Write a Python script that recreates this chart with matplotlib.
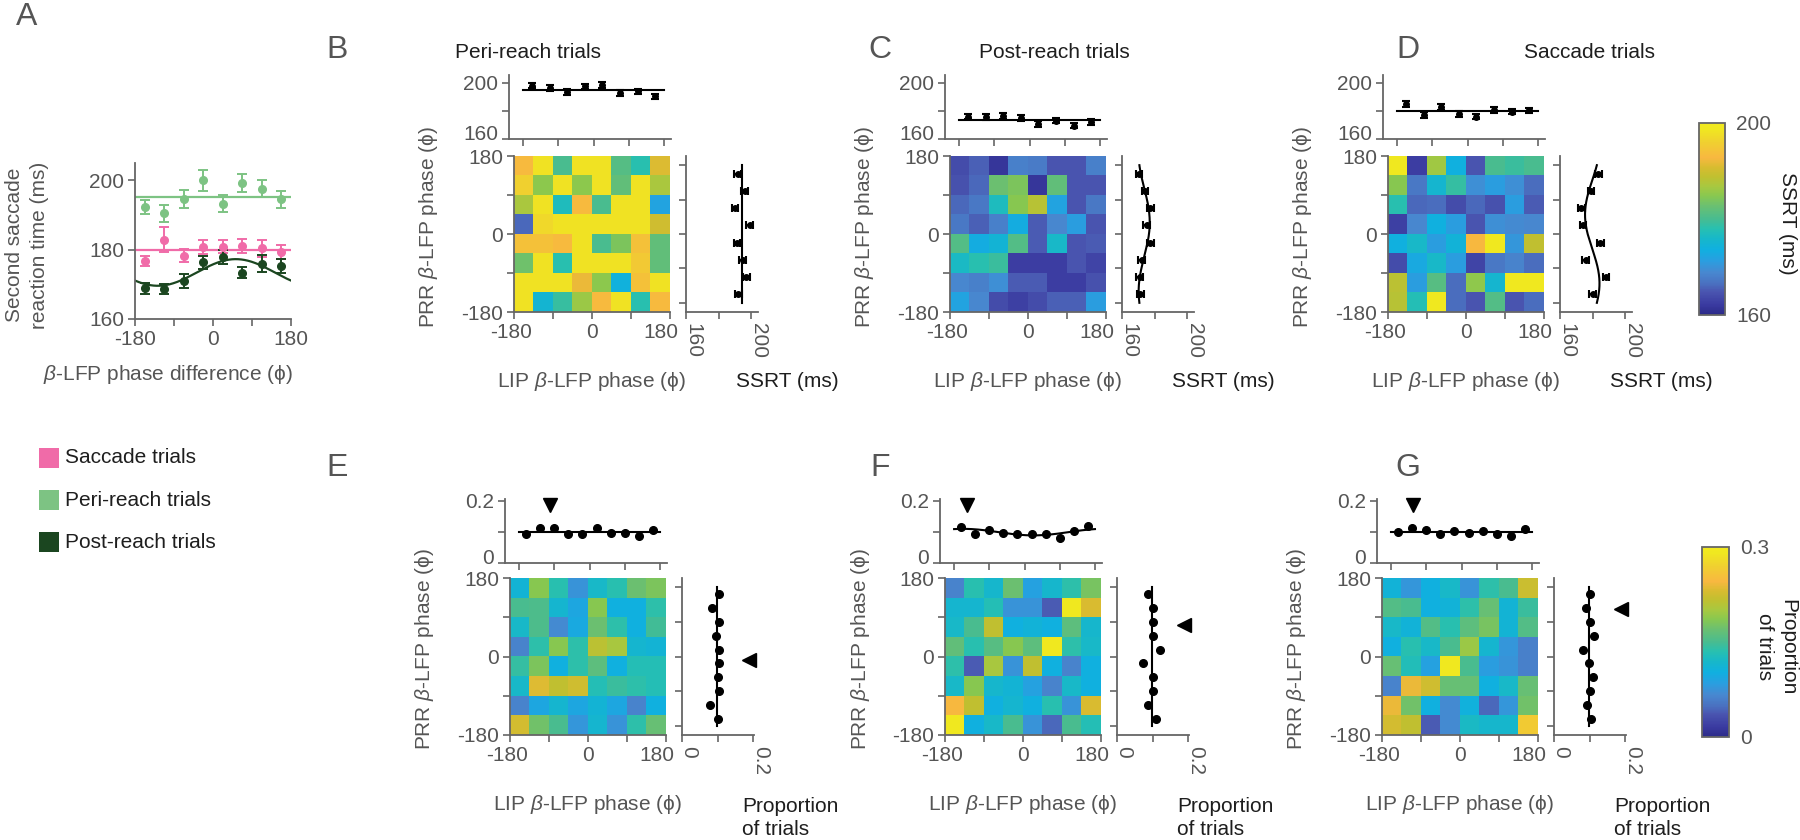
import numpy as np
import matplotlib
matplotlib.use('Agg')
import matplotlib.pyplot as plt
from matplotlib.colors import LinearSegmentedColormap, Normalize
from matplotlib.cm import ScalarMappable
from matplotlib.patches import Rectangle
from matplotlib.transforms import ScaledTranslation

plt.rcParams['font.family'] = ['Liberation Sans', 'DejaVu Sans']
plt.rcParams['mathtext.fontset'] = 'custom'
plt.rcParams['mathtext.rm'] = 'Liberation Sans'
plt.rcParams['mathtext.it'] = 'Liberation Sans:italic'
plt.rcParams['font.size'] = 15

# ---------------- data ----------------
phase8 = [-157.5, -112.5, -67.5, -22.5, 22.5, 67.5, 112.5, 157.5]
phase10 = [-162, -126, -90, -54, -18, 18, 54, 90, 126, 162]

# Panel A: second saccade reaction time (ms)
a_saccade = [176.7, 182.9, 178.3, 180.7, 180.9, 181.0, 180.4, 179.4]
a_saccade_err = [1.5, 3.5, 2.0, 2.0, 2.0, 2.0, 2.5, 2.0]
a_peri = [192.2, 190.5, 194.6, 200.0, 193.3, 199.2, 197.6, 194.5]
a_peri_err = [2.0, 2.5, 2.5, 3.0, 2.5, 2.5, 2.5, 2.5]
a_post = [168.8, 168.6, 171.0, 176.3, 178.0, 173.4, 176.0, 175.3]
a_post_err = [1.5, 1.5, 2.0, 2.0, 2.0, 1.5, 2.5, 2.0]

legend_labels = ['Saccade trials', 'Peri-reach trials', 'Post-reach trials']
titles = ['Peri-reach trials', 'Post-reach trials', 'Saccade trials']

# SSRT heatmaps (rows: PRR phase 180 -> -180, cols: LIP phase -180 -> 180)
ssrt_peri = [
    [193, 198, 180, 198, 198, 181, 178, 191],
    [196, 185, 198, 185, 198, 182, 198, 187],
    [187, 198, 177, 193, 180, 198, 198, 172],
    [166, 197, 198, 198, 198, 198, 198, 190],
    [194, 194, 193, 198, 180, 184, 194, 182],
    [183, 198, 178, 198, 198, 198, 195, 182],
    [198, 198, 198, 192, 185, 174, 194, 198],
    [198, 175, 179, 186, 193, 198, 178, 193],
]
ssrt_post = [
    [164.0, 165.6, 161.6, 168.0, 167.6, 164.8, 164.8, 168.0],
    [164.4, 166.0, 182.8, 184.0, 161.6, 182.0, 164.8, 164.8],
    [166.0, 167.2, 176.8, 184.8, 188.0, 172.0, 164.8, 167.2],
    [167.2, 165.6, 168.0, 173.2, 165.2, 168.8, 171.2, 164.8],
    [180.8, 173.2, 174.8, 180.8, 165.2, 176.0, 164.8, 165.2],
    [176.4, 178.0, 179.2, 162.4, 162.4, 162.4, 164.8, 163.2],
    [168.8, 168.0, 169.6, 165.2, 165.2, 162.4, 162.4, 164.4],
    [172.0, 168.8, 164.0, 162.8, 164.0, 165.6, 165.6, 171.2],
]
ssrt_sacc = [
    [198.8, 162.4, 186.4, 173.6, 164.8, 180.0, 179.2, 180.0],
    [184.8, 167.2, 175.2, 178.8, 169.6, 171.2, 169.6, 166.4],
    [178.0, 166.0, 166.4, 164.0, 166.0, 164.4, 171.2, 165.2],
    [162.8, 168.8, 173.6, 171.2, 164.8, 169.6, 169.2, 168.8],
    [173.6, 176.0, 171.2, 174.4, 192.8, 198.8, 170.4, 188.8],
    [164.0, 172.8, 176.0, 171.2, 163.2, 167.2, 168.4, 166.4],
    [188.4, 171.2, 181.2, 166.4, 185.2, 175.2, 198.8, 198.8],
    [188.0, 177.6, 198.8, 166.4, 164.8, 180.8, 164.8, 166.4],
]
# SSRT marginals (ordered by ascending phase)
ssrt_top = [
    [198.1, 196.4, 193.5, 197.6, 198.6, 192.8, 194.0, 190.4],
    [176.0, 175.6, 176.5, 174.8, 170.8, 173.2, 169.6, 172.0],
    [184.9, 177.2, 182.8, 177.7, 176.0, 180.8, 179.6, 180.4],
]
ssrt_right = [
    [192.2, 197.2, 194.9, 191.5, 199.2, 190.3, 196.1, 191.8],
    [171.3, 170.9, 172.1, 177.5, 175.2, 177.5, 174.2, 170.5],
    [180.0, 188.3, 175.8, 184.8, 174.2, 173.1, 179.0, 183.6],
]
ssrt_err = [2.0, 2.0, 2.0, 2.0, 2.0, 2.0, 2.0, 2.0]
ssrt_top_cosfit = [False, False, False]
ssrt_right_cosfit = [False, True, True]

# Proportion-of-trials heatmaps
prop_peri = [
    [0.111, 0.186, 0.135, 0.075, 0.120, 0.135, 0.171, 0.180],
    [0.150, 0.153, 0.114, 0.093, 0.186, 0.102, 0.102, 0.138],
    [0.120, 0.153, 0.069, 0.096, 0.171, 0.138, 0.102, 0.147],
    [0.063, 0.138, 0.186, 0.138, 0.213, 0.201, 0.114, 0.111],
    [0.141, 0.180, 0.102, 0.138, 0.162, 0.102, 0.132, 0.132],
    [0.120, 0.234, 0.216, 0.225, 0.132, 0.144, 0.138, 0.132],
    [0.063, 0.093, 0.114, 0.093, 0.111, 0.093, 0.063, 0.102],
    [0.228, 0.174, 0.150, 0.078, 0.114, 0.075, 0.138, 0.168],
]
prop_post = [
    [0.063, 0.135, 0.117, 0.171, 0.087, 0.117, 0.138, 0.177],
    [0.114, 0.114, 0.132, 0.075, 0.075, 0.039, 0.291, 0.231],
    [0.120, 0.150, 0.216, 0.102, 0.108, 0.102, 0.162, 0.117],
    [0.165, 0.135, 0.159, 0.186, 0.162, 0.291, 0.138, 0.120],
    [0.138, 0.039, 0.201, 0.075, 0.216, 0.102, 0.063, 0.102],
    [0.120, 0.186, 0.117, 0.111, 0.087, 0.063, 0.120, 0.102],
    [0.246, 0.216, 0.102, 0.114, 0.102, 0.135, 0.075, 0.231],
    [0.291, 0.102, 0.120, 0.150, 0.075, 0.045, 0.150, 0.132],
]
prop_sacc = [
    [0.108, 0.078, 0.102, 0.120, 0.075, 0.138, 0.150, 0.222],
    [0.156, 0.150, 0.102, 0.108, 0.138, 0.168, 0.111, 0.144],
    [0.120, 0.108, 0.156, 0.135, 0.162, 0.177, 0.111, 0.156],
    [0.102, 0.135, 0.120, 0.150, 0.195, 0.114, 0.078, 0.060],
    [0.168, 0.129, 0.087, 0.291, 0.150, 0.084, 0.075, 0.060],
    [0.063, 0.240, 0.225, 0.168, 0.168, 0.102, 0.120, 0.168],
    [0.240, 0.174, 0.102, 0.069, 0.105, 0.045, 0.078, 0.174],
    [0.228, 0.216, 0.039, 0.069, 0.123, 0.117, 0.117, 0.264],
]
prop_top = [
    [0.0936, 0.1117, 0.1117, 0.0915, 0.0915, 0.1117, 0.0968, 0.0968, 0.0862, 0.1043],
    [0.1149, 0.0936, 0.1043, 0.0968, 0.0936, 0.0936, 0.0915, 0.0809, 0.1011, 0.1191],
    [0.0989, 0.1117, 0.1043, 0.0915, 0.1021, 0.0968, 0.1021, 0.0915, 0.0851, 0.1085],
]
prop_right = [
    [0.102, 0.078, 0.105, 0.102, 0.105, 0.105, 0.096, 0.105, 0.085, 0.105],
    [0.1091, 0.0873, 0.100, 0.100, 0.0727, 0.1218, 0.100, 0.100, 0.100, 0.0873],
    [0.105, 0.093, 0.100, 0.110, 0.097, 0.081, 0.112, 0.100, 0.090, 0.102],
]
prop_top_cosfit = [False, True, False]
prop_right_cosfit = [False, False, False]
# preferred-phase markers
tri_top_phase = [-102, -146, -123]
tri_right_phase = [-8, 82, 123]
tri_level = 0.187

# ---------------- style ----------------
TXT = '#555555'
DARK = '#1e1e1e'
SPINE = '#666666'
C_SACC = '#f06ba8'
C_PERI = '#7dc383'
C_POST = '#1b4620'

# parula-like colormap sampled from the reference colour bar
cmap_pos = [0.0, 0.05, 0.12, 0.16, 0.22, 0.28, 0.34, 0.40, 0.45, 0.50,
            0.57, 0.62, 0.67, 0.72, 0.77, 0.82, 0.90, 0.97, 1.0]
cmap_cols = ['#2b2a88', '#3a3aa0', '#4a55b0', '#4a70c0', '#4888d0', '#2a9ee0',
             '#10b0e0', '#18b8c8', '#28c0b0', '#48bc90', '#6cc070', '#88c850',
             '#a8c840', '#c0c030', '#d8bc30', '#f8b840', '#f0d030', '#f0e820',
             '#f2ea1e']
parula = LinearSegmentedColormap.from_list('parula_ref', list(zip(cmap_pos, cmap_cols)), N=256)

W, H = 1800, 840
fig = plt.figure(figsize=(W / 100, H / 100), dpi=100)


def box(x0, y0, x1, y1):
    return [x0 / W, 1 - y1 / H, (x1 - x0) / W, (y1 - y0) / H]


def fx(x):
    return x / W


def fy(y):
    return 1 - y / H


def shift(lbl, dx, dy):
    lbl.set_transform(lbl.get_transform() +
                      ScaledTranslation(dx / 100, dy / 100, fig.dpi_scale_trans))


def style(ax):
    for s in ['top', 'right']:
        ax.spines[s].set_visible(False)
    for s in ['left', 'bottom']:
        ax.spines[s].set_color(SPINE)
        ax.spines[s].set_linewidth(1.3)
    ax.tick_params(direction='out', length=5, width=1.2, color=SPINE,
                   labelcolor=TXT, labelsize=15, pad=3)


def cosfit(ph, vals):
    th = np.deg2rad(np.asarray(ph, float))
    X = np.column_stack([np.ones_like(th), np.cos(th), np.sin(th)])
    coef, *_ = np.linalg.lstsq(X, np.asarray(vals, float), rcond=None)
    t = np.linspace(-180, 180, 361)
    tt = np.deg2rad(t)
    return t, coef[0] + coef[1] * np.cos(tt) + coef[2] * np.sin(tt)


def flatfit(vals):
    t = np.array([-180, 180])
    m = np.mean(vals)
    return t, np.array([m, m])


beta_lip = r'LIP $\beta$-LFP phase (ϕ)'
beta_prr = r'PRR $\beta$-LFP phase (ϕ)'
phase_ticks = [-180, -90, 0, 90, 180]
phase_lbls = ['-180', '', '0', '', '180']

# ---------------- Panel A ----------------
axA = fig.add_axes(box(135, 163, 291, 319))
style(axA)
for vals, err, col in [(a_peri, a_peri_err, C_PERI), (a_saccade, a_saccade_err, C_SACC)]:
    t, f = flatfit(vals)
    axA.plot(t, f, color=col, lw=1.6, zorder=2)
    axA.errorbar(phase8, vals, yerr=err, fmt='o', color=col, ms=5.5,
                 capsize=3.5, elinewidth=1.4, capthick=1.4, zorder=3)
t, f = cosfit(phase8, a_post)
axA.plot(t, f, color=C_POST, lw=1.6, zorder=2)
axA.errorbar(phase8, a_post, yerr=a_post_err, fmt='o', color=C_POST, ms=5.5,
             capsize=3.5, elinewidth=1.4, capthick=1.4, zorder=3)
axA.set_xlim(-180, 180)
axA.set_ylim(160, 205)
axA.set_xticks(phase_ticks)
axA.set_xticklabels(phase_lbls)
axA.set_yticks([160, 180, 200])
fig.text(fx(27), fy(245), 'Second saccade\nreaction time (ms)', rotation=90,
         ha='center', va='center', color=TXT, fontsize=15, linespacing=1.45)
fig.text(fx(43), fy(375), r'$\beta$-LFP phase difference (ϕ)', ha='left',
         va='center', color=TXT, fontsize=15)
fig.text(fx(27), fy(17), 'A', ha='center', va='center', color=TXT, fontsize=23)

# legend
for i, (lab, col) in enumerate(zip(legend_labels, [C_SACC, C_PERI, C_POST])):
    yc = 458 + 42 * i
    fig.patches.append(Rectangle((fx(39), fy(yc + 10)), 20 / W, 20 / H,
                                 transform=fig.transFigure, facecolor=col,
                                 edgecolor='none'))
    fig.text(fx(65), fy(yc), lab, ha='left', va='center', color=DARK, fontsize=15)

# ---------------- heatmap panels ----------------
row1_left = [514, 950, 1388]
row2_left = [510, 945, 1382]
letters_top = ['B', 'C', 'D']
letters_bot = ['E', 'F', 'G']
letter_x = [337, 880, 1408]
title_x = [528, 1054, 1590]


def heat_panel(hl, top, bottom, data, vmin, vmax, top_vals, right_vals, phases,
               top_fit, right_fit, err, top_ylim, top_yticks, top_ylbls,
               right_xlim, right_xticks, right_xlbls, mt_top, mt_bot, tri=None):
    axH = fig.add_axes(box(hl, top, hl + 156, bottom))
    style(axH)
    axH.imshow(np.array(data), cmap=parula, vmin=vmin, vmax=vmax,
               extent=[-180, 180, -180, 180], origin='upper', aspect='auto',
               interpolation='nearest')
    axH.set_xlim(-180, 180)
    axH.set_ylim(-180, 180)
    axH.set_xticks(phase_ticks)
    axH.set_xticklabels(phase_lbls)
    axH.set_yticks(phase_ticks)
    axH.set_yticklabels(phase_lbls)
    xl = axH.get_xticklabels()
    shift(xl[0], -3, 0)
    shift(xl[-1], -9, 0)

    # top marginal
    axT = fig.add_axes(box(hl - 5, mt_top, hl + 157, mt_bot))
    style(axT)
    if top_fit:
        t, f = cosfit(phases, top_vals)
    else:
        t, f = flatfit(top_vals)
    axT.plot(t, f, color='k', lw=1.5, zorder=2)
    if err is not None:
        axT.errorbar(phases, top_vals, yerr=err, fmt='o', color='k', ms=4,
                     capsize=3, elinewidth=1.5, capthick=1.5, zorder=3)
    else:
        axT.plot(phases, top_vals, 'o', color='k', ms=5.5, zorder=3)
    axT.set_xlim(-216, 198)
    axT.set_ylim(*top_ylim)
    axT.set_xticks(phase_ticks)
    axT.set_xticklabels([])
    axT.set_yticks(top_yticks)
    axT.set_yticklabels(top_ylbls)
    shift(axT.get_yticklabels()[0], 0, 7)

    # right marginal
    axR = fig.add_axes(box(hl + 172, top, hl + 244, bottom))
    style(axR)
    if right_fit:
        t, f = cosfit(phases, right_vals)
    else:
        t, f = flatfit(right_vals)
    axR.plot(f, t, color='k', lw=1.5, zorder=2)
    if err is not None:
        axR.errorbar(right_vals, phases, xerr=err, fmt='o', color='k', ms=4,
                     capsize=3, elinewidth=1.5, capthick=1.5, zorder=3)
    else:
        axR.plot(right_vals, phases, 'o', color='k', ms=5.5, zorder=3)
    axR.set_xlim(*right_xlim)
    axR.set_ylim(-204, 204)
    axR.set_yticks(phase_ticks)
    axR.set_yticklabels([])
    axR.set_xticks(right_xticks)
    axR.set_xticklabels(right_xlbls, rotation=-90)
    for lb in axR.get_xticklabels():
        shift(lb, 7, 0)

    if tri is not None:
        tp, rp = tri
        axT.plot([tp], [tri_level], marker='v', color='k', ms=10, clip_on=False)
        axR.plot([tri_level], [rp], marker='<', color='k', ms=10, clip_on=False)

    fig.text(fx(hl - 85), fy((top + bottom) / 2 - 7), beta_prr, rotation=90,
             ha='center', va='center', color=TXT, fontsize=15)
    return axH


for i in range(3):
    hl = row1_left[i]
    heat_panel(hl, 156, 312, [ssrt_peri, ssrt_post, ssrt_sacc][i], 160, 200,
               ssrt_top[i], ssrt_right[i], phase8, ssrt_top_cosfit[i],
               ssrt_right_cosfit[i], ssrt_err, (160, 205.7), [160, 180, 200],
               ['160', '', '200'], (160, 204.3), [160, 180, 200], ['160', '', '200'],
               75, 139)
    fig.text(fx(hl + 78), fy(382), beta_lip, ha='center', va='center',
             color=TXT, fontsize=15)
    fig.text(fx(hl + 222), fy(382), 'SSRT (ms)', ha='left', va='center',
             color=DARK, fontsize=15)
    fig.text(fx(letter_x[i]), fy(50), letters_top[i], ha='center', va='center',
             color=TXT, fontsize=23)
    fig.text(fx(title_x[i]), fy(52), titles[i], ha='center', va='center',
             color=DARK, fontsize=15)

for i in range(3):
    hl = row2_left[i]
    heat_panel(hl, 578, 735, [prop_peri, prop_post, prop_sacc][i], 0, 0.3,
               prop_top[i], prop_right[i], phase10, prop_top_cosfit[i],
               prop_right_cosfit[i], None, (0, 0.205), [0, 0.1, 0.2],
               ['0', '', '0.2'], (0, 0.202), [0, 0.1, 0.2], ['0', '', '0.2'],
               499, 563, tri=(tri_top_phase[i], tri_right_phase[i]))
    fig.text(fx(hl + 78), fy(805), beta_lip, ha='center', va='center',
             color=TXT, fontsize=15)
    fig.text(fx(hl + 232), fy(818), 'Proportion\nof trials', ha='left',
             va='center', color=DARK, fontsize=15, linespacing=1.3)
    fig.text(fx(letter_x[i]), fy(468), letters_bot[i], ha='center', va='center',
             color=TXT, fontsize=23)


# ---------------- colorbars ----------------
def cbar(b, vmin, vmax, ticks, lbls, label, lx, ly):
    cax = fig.add_axes(box(*b))
    cb = fig.colorbar(ScalarMappable(norm=Normalize(vmin, vmax), cmap=parula),
                      cax=cax, ticks=ticks)
    cb.set_ticklabels(lbls)
    cb.outline.set_edgecolor(SPINE)
    cb.outline.set_linewidth(1.3)
    cax.tick_params(length=0, labelsize=15, labelcolor=TXT, pad=8)
    fig.text(fx(lx), fy(ly), label, rotation=270, ha='center', va='center',
             color=DARK, fontsize=15, linespacing=1.25)


cbar((1699, 123, 1725, 315), 160, 200, [160, 200], ['160', '200'], 'SSRT (ms)', 1787, 223)
cbar((1702, 547, 1729, 737), 0, 0.3, [0, 0.3], ['0', '0.3'], 'Proportion\nof trials', 1776, 647)

fig.savefig('out.png', dpi=100)
